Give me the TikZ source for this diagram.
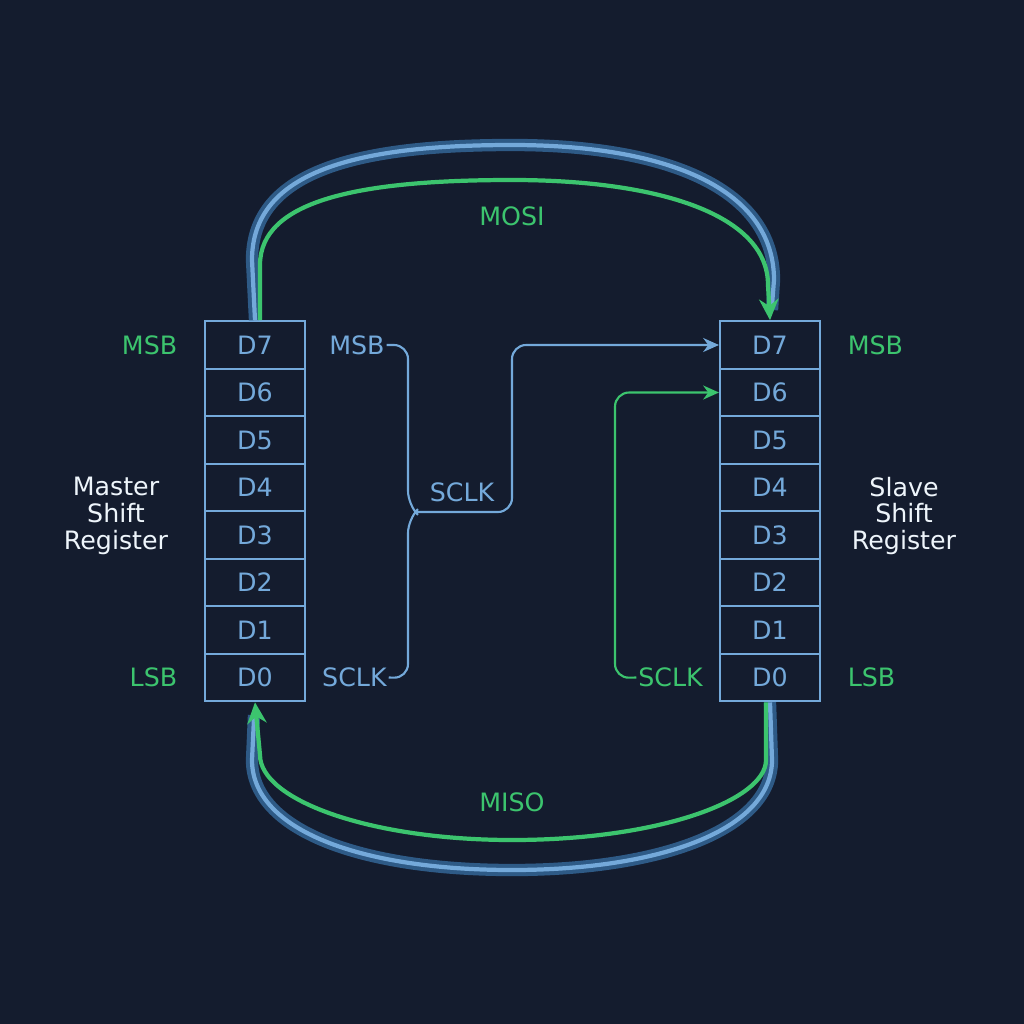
\documentclass[tikz,border=0pt]{standalone}
\usepackage{fontspec}
\setmainfont{DejaVu Sans}
\usetikzlibrary{positioning,arrows.meta}
\definecolor{bgc}{HTML}{141C2E}
\definecolor{regblue}{HTML}{74A9DA}
\definecolor{siggreen}{HTML}{3CC46E}
\definecolor{glowblue}{HTML}{2E5A86}
\tikzset{
  cell/.style={draw=regblue, line width=1.2pt, minimum width=100*0.02cm, minimum height=47.5*0.02cm, inner sep=0pt, text=regblue, font=\Large},
  side/.style={font=\Large, inner sep=1pt},
  bus/.style={line width=2.4pt},
  clk/.style={line width=1.2pt, rounded corners=8pt, -{Stealth[length=9pt,width=8pt]}}
}
\begin{document}
\begin{tikzpicture}[x=0.02cm,y=-0.02cm]
  \fill[bgc] (0,0) rectangle (1024,1024);
  % registers
  \foreach \i [count=\n from 0] in {7,...,0} {
    \node[cell] (m\i) at (255,345+\n*47.5) {D\i};
    \node[cell] (s\i) at (770,345+\n*47.5) {D\i};
  }
  % side labels
  \node[side, text=siggreen, left=14pt of m7] {MSB};
  \node[side, text=siggreen, left=14pt of m0] {LSB};
  \node[side, text=siggreen, right=14pt of s7] {MSB};
  \node[side, text=siggreen, right=14pt of s0] {LSB};
  \node[side, text=regblue, right=12pt of m7] (mmsb) {MSB};
  \node[side, text=regblue, right=8pt of m0] (msclk) {SCLK};
  \node[side, text=siggreen, left=8pt of s0] (ssclk) {SCLK};
  \node[side, text=white!88!regblue, align=center, font=\Large\linespread{0.85}\selectfont] at (116,516) {Master\\Shift\\Register};
  \node[side, text=white!88!regblue, align=center, font=\Large\linespread{0.85}\selectfont] at (904,516) {Slave\\Shift\\Register};
  % MOSI
  \draw[bus, glowblue, line width=7pt] (m7.north) -- (252,260) .. controls (252,170) and (360,145) .. (512,145) .. controls (670,145) and (774,190) .. (774,280) -- (772,310);
  \draw[bus, regblue] (m7.north) -- (252,260) .. controls (252,170) and (360,145) .. (512,145) .. controls (670,145) and (774,190) .. (774,280) -- (772,305);
  \draw[bus, siggreen, -{Stealth[length=12pt,width=11pt]}] (m7.north) ++(5,0) -- (260,265) .. controls (260,200) and (360,180) .. (512,180) .. controls (660,180) and (768,215) .. (768,285) -- (s7.north);
  \node[side, text=siggreen] at (512,216) {MOSI};
  % MISO
  \draw[bus, glowblue, line width=7pt] (s0.south) -- (772,760) .. controls (772,830) and (660,870) .. (512,870) .. controls (360,870) and (252,830) .. (252,760) -- (254,715);
  \draw[bus, regblue] (s0.south) -- (772,760) .. controls (772,830) and (660,870) .. (512,870) .. controls (360,870) and (252,830) .. (252,760) -- (254,718);
  \draw[bus, siggreen, -{Stealth[length=12pt,width=11pt]}] (s0.south) ++(-4,0) -- (766,760) .. controls (766,800) and (660,840) .. (512,840) .. controls (370,840) and (260,800) .. (260,755) -- (m0.south);
  \node[side, text=siggreen] at (512,802) {MISO};
  % master clock
  \coordinate (j) at (415,512);
  \draw[regblue, line width=1.2pt, rounded corners=8pt] (mmsb.east) -- (408,345) -- (408,505) -- (j);
  \draw[regblue, line width=1.2pt, rounded corners=8pt] (msclk.east) -- (408,678) -- (408,519) -- (j);
  \node[side, text=regblue] at (462,492) {SCLK};
  \draw[clk, regblue] (j) -- (512,512) -- (512,345) -- (s7.west);
  % slave clock
  \draw[clk, siggreen] (ssclk.west) -- (615,678) -- (615,392.5) -- (s6.west);
\end{tikzpicture}
\end{document}
